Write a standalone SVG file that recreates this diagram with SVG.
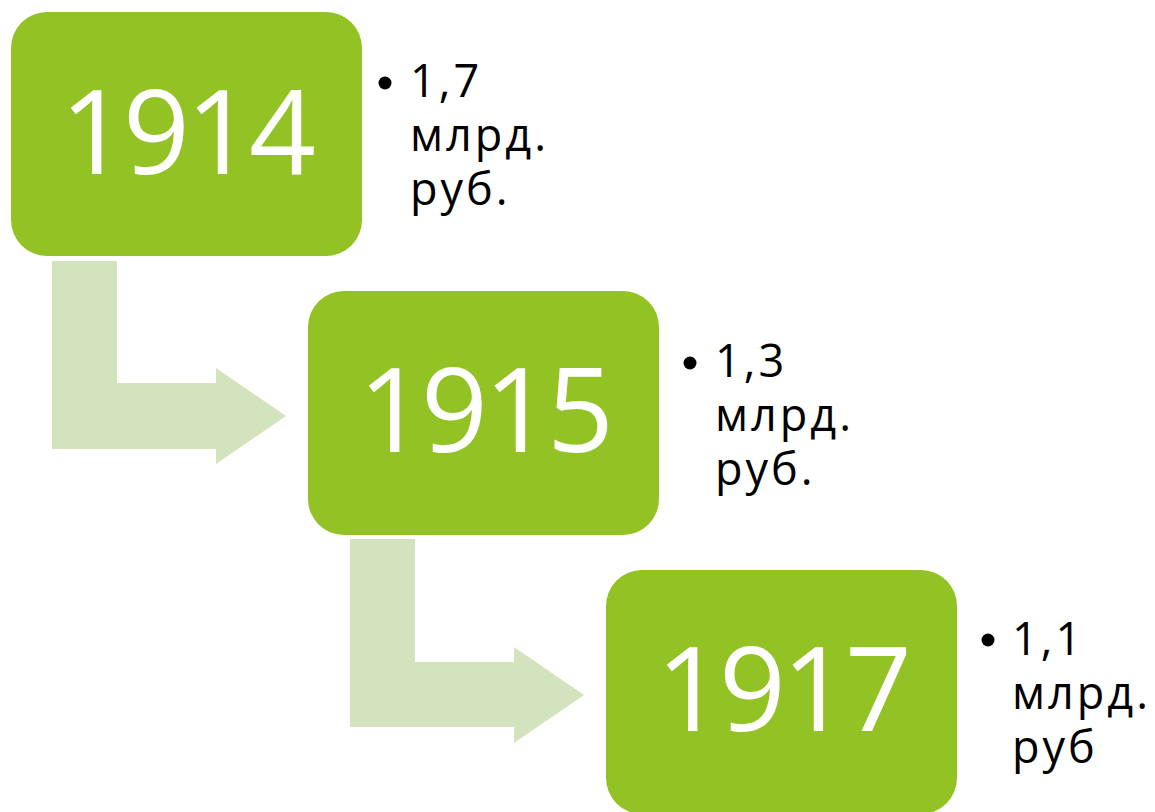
<svg xmlns="http://www.w3.org/2000/svg" width="1155" height="812" viewBox="0 0 1155 812">
<style>
.box{fill:#93C225}
.arrow{fill:#D2E3BE}
.year{font-family:"Open Sans","Liberation Sans",sans-serif;font-size:117px;fill:#FFFFFF;letter-spacing:-4px}
.lbl{font-family:"Open Sans","Liberation Sans",sans-serif;font-size:45px;fill:#000000;letter-spacing:3px}
.dot{fill:#000000}
</style>
<rect width="1155" height="812" fill="#FFFFFF"/>
<g id="connectors">
<polygon class="arrow" points="52,261 117,261 117,383 216,383 216,368 286,416 216,464 216,449 52,449"/>
<polygon class="arrow" points="350,539 415,539 415,662 514,662 514,647 584,695 514,743 514,727 350,727"/>
</g>
<g id="node-1914">
<rect class="box" x="11" y="12" width="351" height="244" rx="36"/>
<text class="year" x="186" y="174" text-anchor="middle">1914</text>
<circle class="dot" cx="385" cy="83" r="6.5"/>
<text class="lbl"><tspan x="410" y="97">1,7</tspan><tspan x="410" y="151">млрд.</tspan><tspan x="410" y="205">руб.</tspan></text>
</g>
<g id="node-1915">
<rect class="box" x="308" y="291" width="351" height="244" rx="36"/>
<text class="year" x="484" y="452" text-anchor="middle">1915</text>
<circle class="dot" cx="690" cy="363" r="6.5"/>
<text class="lbl"><tspan x="715" y="377">1,3</tspan><tspan x="715" y="431">млрд.</tspan><tspan x="715" y="485">руб.</tspan></text>
</g>
<g id="node-1917">
<rect class="box" x="606" y="570" width="351" height="244" rx="36"/>
<text class="year" x="782" y="731" text-anchor="middle">1917</text>
<circle class="dot" cx="988" cy="640" r="6.5"/>
<text class="lbl"><tspan x="1012" y="655">1,1</tspan><tspan x="1012" y="709">млрд.</tspan><tspan x="1012" y="763">руб</tspan></text>
</g>
</svg>
